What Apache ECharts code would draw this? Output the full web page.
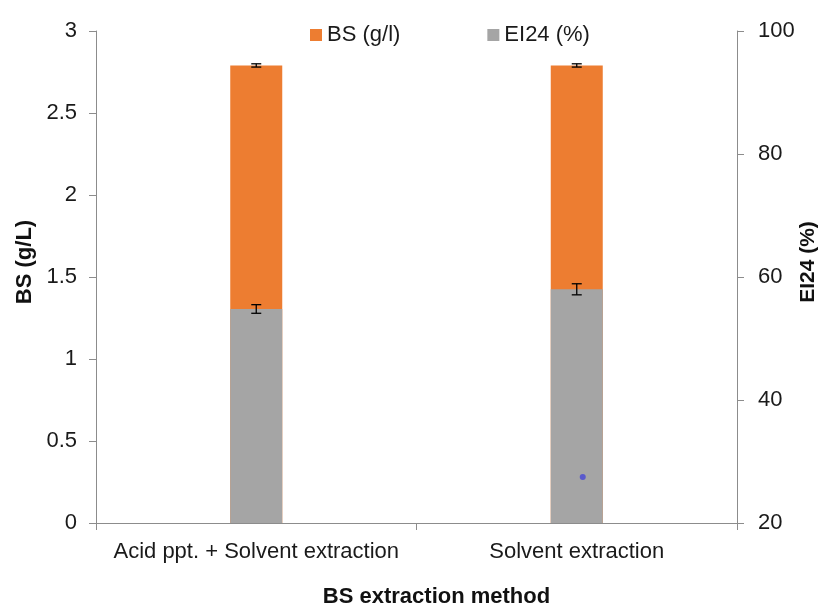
<!DOCTYPE html>
<html><head><meta charset="utf-8">
<script src="https://cdn.jsdelivr.net/npm/echarts@6/dist/echarts.min.js"></script>
<style>html,body{margin:0;padding:0;background:#fff}#c{width:818px;height:612px}</style>
</head><body><div id="c"></div>
<script>
var categories = ['Acid ppt. + Solvent extraction', 'Solvent extraction'];
var bsValues = [2.79, 2.79];
var bsErrors = [0.01, 0.01];
var ei24Values = [54.8, 58.0];
var ei24Errors = [0.7, 0.9];
var leftTicks = [0, 0.5, 1, 1.5, 2, 2.5, 3];
var rightTicks = [20, 40, 60, 80, 100];
var strayDot = [[1, 0.28]];

var chart = echarts.init(document.getElementById('c'));
var font = '"Liberation Sans", Arial, sans-serif';
var axisColor = '#8c8c8c';

function errorSeries(name, yIdx, vals, errs) {
  return {
    name: name + '_err', type: 'custom', yAxisIndex: yIdx, z: 10,
    data: vals.map(function (v, i) { return [i, v - errs[i], v + errs[i]]; }),
    renderItem: function (params, api) {
      var lo = api.coord([api.value(0), api.value(1)]);
      var hi = api.coord([api.value(0), api.value(2)]);
      var w = 5;
      var st = { stroke: '#000', lineWidth: 1.3 };
      return { type: 'group', children: [
        { type: 'line', shape: { x1: lo[0], y1: lo[1], x2: hi[0], y2: hi[1] }, style: st },
        { type: 'line', shape: { x1: lo[0] - w, y1: lo[1], x2: lo[0] + w, y2: lo[1] }, style: st },
        { type: 'line', shape: { x1: hi[0] - w, y1: hi[1], x2: hi[0] + w, y2: hi[1] }, style: st }
      ]};
    },
    tooltip: { show: false }
  };
}

chart.setOption({
  animation: false,
  textStyle: { fontFamily: font },
  grid: { left: 96, right: 81, top: 31, bottom: 89, outerBoundsMode: 'none', containLabel: false },
  legend: {
    data: ['BS (g/l)', 'EI24 (%)'],
    left: 305, top: 19, itemWidth: 12, itemHeight: 12, itemGap: 87,
    icon: 'rect',
    textStyle: { fontSize: 22, color: '#1a1a1a', fontFamily: font }
  },
  xAxis: {
    type: 'category', data: categories,
    axisLine: { lineStyle: { color: axisColor } },
    axisTick: { show: true, length: 7, lineStyle: { color: axisColor } },
    axisLabel: { fontSize: 22, color: '#1a1a1a', margin: 18, interval: 0, fontFamily: font },
    name: 'BS extraction method', nameLocation: 'middle', nameGap: 63,
    nameTextStyle: { fontSize: 22, fontWeight: 'bold', color: '#111', fontFamily: font,
      padding: [0, 0, 0, 40] }
  },
  yAxis: [{
    type: 'value', min: 0, max: 3, interval: 0.5,
    axisLine: { show: true, lineStyle: { color: axisColor } },
    axisTick: { show: true, length: 7, lineStyle: { color: axisColor } },
    splitLine: { show: false },
    axisLabel: { fontSize: 22, color: '#1a1a1a', margin: 19, fontFamily: font,
      formatter: function (v) { return leftTicks.indexOf(v) >= 0 ? String(v) : ''; } },
    name: 'BS (g/L)', nameLocation: 'middle', nameGap: 60, nameRotate: 90,
    nameTextStyle: { fontSize: 22, fontWeight: 'bold', color: '#111', fontFamily: font,
      padding: [0, 0, 0, 30] }
  }, {
    type: 'value', min: 20, max: 100, interval: 20, position: 'right',
    axisLine: { show: true, lineStyle: { color: axisColor } },
    axisTick: { show: true, length: 7, lineStyle: { color: axisColor } },
    splitLine: { show: false },
    axisLabel: { fontSize: 22, color: '#1a1a1a', margin: 21, fontFamily: font,
      formatter: function (v) { return rightTicks.indexOf(v) >= 0 ? String(v) : ''; } },
    name: 'EI24 (%)', nameLocation: 'middle', nameGap: 61, nameRotate: 90,
    nameMoveOverlap: false,
    nameTextStyle: { fontSize: 21, fontWeight: 'bold', color: '#111', fontFamily: font,
      padding: [0, 0, 0, 30] }
  }],
  series: [{
    name: 'BS (g/l)', type: 'bar', yAxisIndex: 0, data: bsValues,
    barWidth: 52, barGap: '-100%', itemStyle: { color: '#ED7D31' }
  }, {
    name: 'EI24 (%)', type: 'bar', yAxisIndex: 1, data: ei24Values,
    barWidth: 52, barGap: '-100%', clip: true, itemStyle: { color: '#A5A5A5' }
  },
  errorSeries('BS (g/l)', 0, bsValues, bsErrors),
  errorSeries('EI24 (%)', 1, ei24Values, ei24Errors),
  {
    name: 'dot', type: 'scatter', yAxisIndex: 0, data: strayDot,
    symbolSize: 6, symbolOffset: [6, 0], itemStyle: { color: '#4646d6' }, z: 11
  }]
});
</script></body></html>
